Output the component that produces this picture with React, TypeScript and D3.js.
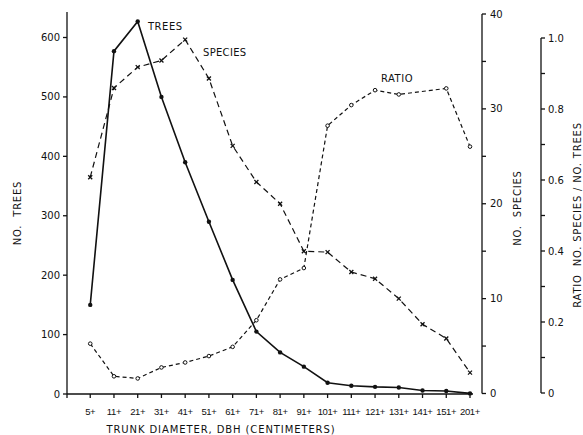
import React from "react";
import * as d3 from "d3";

// Diameter classes (cm)
const categories = ["5+", "11+", "21+", "31+", "41+", "51+", "61+", "71+", "81+", "91+", "101+", "111+", "121+", "131+", "141+", "151+", "201+"];
// Number of trees per class
const trees = [150, 577, 627, 500, 390, 290, 192, 105, 70, 46, 19, 14, 12, 11, 6, 5, 1];
// Number of species per class
const species = [22.8, 32.2, 34.4, 35.1, 37.3, 33.2, 26.1, 22.3, 20, 15, 14.9, 12.8, 12.1, 10, 7.3, 5.8, 2.2];
// Ratio species / trees (no point plotted for 141+)
const ratio = [0.139, 0.047, 0.041, 0.072, 0.086, 0.104, 0.13, 0.205, 0.32, 0.352, 0.753, 0.811, 0.853, 0.841, null, 0.858, 0.694];

const treeTicks = [0, 100, 200, 300, 400, 500, 600];
const speciesTicks = [0, 5, 10, 15, 20, 25, 30, 35, 40];
const speciesLabels = [0, 10, 20, 30, 40];
const ratioTicks = [0, 0.1, 0.2, 0.3, 0.4, 0.5, 0.6, 0.7, 0.8, 0.9, 1.0];
const ratioLabels = [0, 0.2, 0.4, 0.6, 0.8, 1.0];

const FONT = "'DejaVu Sans', 'Liberation Sans', sans-serif";
const NARROW = "'Liberation Sans', 'DejaVu Sans', sans-serif";

export default function App() {
  const x = d3.scaleLinear().domain([-1, categories.length - 1]).range([66.5, 470]);
  const yT = d3.scaleLinear().domain([0, 600]).range([394, 37.5]);
  const yS = d3.scaleLinear().domain([0, 40]).range([393.5, 14]);
  const yR = d3.scaleLinear().domain([0, 1]).range([393, 38]);

  const leftX = 67;
  const specX = 482;
  const ratioX = 541;
  const baseY = 394;

  const treePts = trees.map((v, i) => [x(i), yT(v)] as [number, number]);
  const specPts = species.map((v, i) => [x(i), yS(v)] as [number, number]);
  const ratioPts = ratio
    .map((v, i) => (v == null ? null : ([x(i), yR(v)] as [number, number])))
    .filter((p): p is [number, number] => p !== null);

  const line = d3.line();

  const txt = { fontFamily: FONT, fontSize: 10, fill: "#111" } as const;

  return (
    <svg
      width={583}
      height={435}
      style={{ position: "absolute", left: 0, top: 0, background: "#fff" }}
    >
      <rect width={583} height={435} fill="#fff" />
      <g stroke="#111" strokeWidth={1.3} fill="none">
        {/* left axis */}
        <line x1={leftX} y1={12} x2={leftX} y2={baseY} />
        {treeTicks.map((t) => (
          <line key={"lt" + t} x1={leftX - 4} x2={leftX} y1={yT(t)} y2={yT(t)} />
        ))}
        {/* bottom axis */}
        <line x1={leftX} y1={baseY} x2={473} y2={baseY} />
        <line x1={leftX} x2={leftX} y1={baseY} y2={baseY + 4} />
        {categories.map((c, i) => (
          <line key={"bt" + c} x1={x(i)} x2={x(i)} y1={baseY} y2={baseY + 4} />
        ))}
        {/* species axis */}
        <line x1={specX} y1={yS(40)} x2={specX} y2={yS(0)} />
        {speciesTicks.map((t) => (
          <line key={"st" + t} x1={specX} x2={specX + 4} y1={yS(t)} y2={yS(t)} />
        ))}
        {/* ratio axis */}
        <line x1={ratioX} y1={yR(1)} x2={ratioX} y2={yR(0)} />
        {ratioTicks.map((t) => (
          <line key={"rt" + t} x1={ratioX} x2={ratioX + 4} y1={yR(t)} y2={yR(t)} />
        ))}
      </g>

      {/* tick labels */}
      {treeTicks.map((t) => (
        <text key={"ll" + t} x={leftX - 7} y={yT(t) + 3.5} textAnchor="end" style={txt}>
          {t}
        </text>
      ))}
      {categories.map((c, i) => (
        <text
          key={"bl" + c}
          x={x(i)}
          y={415}
          textAnchor="middle"
          style={{ ...txt, fontFamily: NARROW, fontSize: 9.5, letterSpacing: -0.4 }}
        >
          {c}
        </text>
      ))}
      {speciesLabels.map((t) => (
        <text key={"sl" + t} x={specX + 8} y={yS(t) + 3.5} style={txt}>
          {t}
        </text>
      ))}
      {ratioLabels.map((t) => (
        <text key={"rl" + t} x={ratioX + 7} y={yR(t) + 3.5} style={txt}>
          {t === 0 ? "0" : t.toFixed(1)}
        </text>
      ))}

      {/* axis titles */}
      <text x={221} y={433} textAnchor="middle" style={{ ...txt, letterSpacing: 0.9 }}>
        TRUNK DIAMETER, DBH (CENTIMETERS)
      </text>
      <text
        transform="translate(21,213) rotate(-90)"
        textAnchor="middle"
        style={{ ...txt, letterSpacing: 0.8, whiteSpace: "pre" }}
      >
        NO.  TREES
      </text>
      <text
        transform="translate(521,208) rotate(-90)"
        textAnchor="middle"
        style={{ ...txt, letterSpacing: 0.8, whiteSpace: "pre" }}
      >
        NO.  SPECIES
      </text>
      <text
        transform="translate(581,215) rotate(-90)"
        textAnchor="middle"
        style={{ ...txt, letterSpacing: 0.8, whiteSpace: "pre" }}
      >
        RATIO  NO. SPECIES / NO. TREES
      </text>

      {/* series labels */}
      <text x={148} y={30} style={{ ...txt, letterSpacing: 0.5 }}>TREES</text>
      <text x={203} y={56} style={{ ...txt, letterSpacing: 0.3 }}>SPECIES</text>
      <text x={381} y={82} style={{ ...txt, letterSpacing: 0.5 }}>RATIO</text>

      {/* trees: solid line with dots */}
      <path d={line(treePts) ?? ""} fill="none" stroke="#111" strokeWidth={1.6} />
      {treePts.map(([px, py], i) => (
        <circle key={"tp" + i} cx={px} cy={py} r={2.2} fill="#111" />
      ))}

      {/* species: dashed line with x marks */}
      <path d={line(specPts) ?? ""} fill="none" stroke="#111" strokeWidth={1.2} strokeDasharray="6 4" />
      {specPts.map(([px, py], i) => (
        <g key={"sp" + i} stroke="#111" strokeWidth={1.3}>
          <line x1={px - 2} y1={py - 2} x2={px + 2} y2={py + 2} />
          <line x1={px - 2} y1={py + 2} x2={px + 2} y2={py - 2} />
        </g>
      ))}

      {/* ratio: dashed line with open circles */}
      <path d={line(ratioPts) ?? ""} fill="none" stroke="#111" strokeWidth={1.2} strokeDasharray="4 3" />
      {ratioPts.map(([px, py], i) => (
        <circle key={"rp" + i} cx={px} cy={py} r={1.8} fill="#fff" stroke="#111" strokeWidth={1} />
      ))}
    </svg>
  );
}
